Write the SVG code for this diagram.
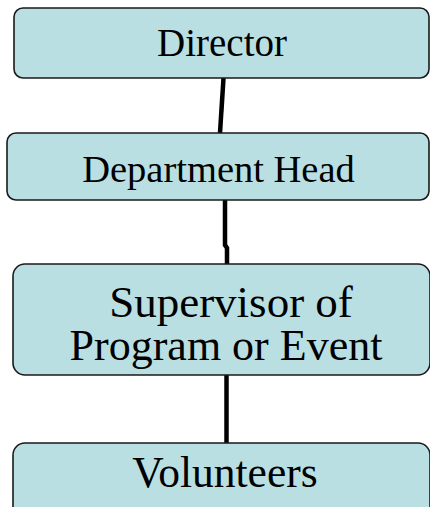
<svg xmlns="http://www.w3.org/2000/svg" width="430" height="507" viewBox="0 0 430 507">
<style>
.box{fill:#B9DFE3;stroke:#1a1a1a;stroke-width:1.6}
.t{font-family:"Liberation Serif","Times New Roman",serif;fill:#000;text-anchor:middle}
.c{stroke:#000;stroke-width:4.5;fill:none}
</style>
<rect width="430" height="507" fill="#fff"/>
<g id="connectors">
<line class="c" x1="223.5" y1="78" x2="220" y2="133"/>
<polyline class="c" points="225,200 225,245 227,248 227,264"/>
<line class="c" x1="226.5" y1="375" x2="226.5" y2="443"/>
</g>
<g id="director">
<rect class="box" x="14" y="8" width="415" height="70" rx="9"/>
<text class="t" x="222" y="56" font-size="39">Director</text>
</g>
<g id="department-head">
<rect class="box" x="7" y="133" width="422" height="67" rx="9"/>
<text class="t" x="218.5" y="182" font-size="38.5">Department Head</text>
</g>
<g id="supervisor">
<rect class="box" x="13" y="264" width="417" height="111" rx="12"/>
<text class="t" x="231" y="317" font-size="45">Supervisor of</text>
<text class="t" x="226" y="360" font-size="44">Program or Event</text>
</g>
<g id="volunteers">
<rect class="box" x="13" y="443" width="417" height="80" rx="12"/>
<text class="t" x="225" y="487" font-size="43.5">Volunteers</text>
</g>
</svg>
